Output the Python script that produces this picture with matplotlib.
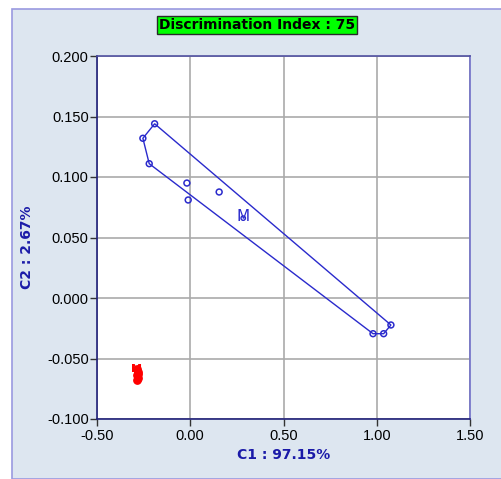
#PCA scatter plot with hull
import matplotlib.pyplot as plt
import numpy as np
from matplotlib.patches import Rectangle, Polygon

# group 1 (blue) scores
c1_blue = [-0.191, -0.254, -0.220, -0.018, -0.011, 0.155, 0.980, 1.037, 1.076]
c2_blue = [0.144, 0.132, 0.111, 0.095, 0.081, 0.0876, -0.0295, -0.0295, -0.0223]
# hull order (indices into blue points)
hull_idx = [0, 1, 2, 6, 7, 8]
blue_mean = (0.284, 0.066)

# group 2 (red) scores
c1_red = [-0.288, -0.282, -0.285, -0.279, -0.283, -0.280]
c2_red = [-0.059, -0.061, -0.064, -0.066, -0.068, -0.063]
red_mean = (-0.288, -0.059)

xticks = [-0.5, 0.0, 0.5, 1.0, 1.5]
yticks = [-0.1, -0.05, 0.0, 0.05, 0.1, 0.15, 0.2]

panel = '#dde6f0'
blue = '#2a2acc'
navy = '#20207a'

fig = plt.figure(figsize=(5.01, 4.79), dpi=100)
fig.patch.set_facecolor('white')
# panel background with border
fig.patches.append(Rectangle((12/501, 0.5/479), 1.0, 470/479, transform=fig.transFigure,
                             facecolor=panel, edgecolor='#9a9ae0', lw=1.2, zorder=-10))

ax = fig.add_axes([97/501, 60/479, 373/501, 363/479])
ax.set_zorder(5)
ax.set_facecolor('white')
ax.set_xlim(-0.5, 1.5)
ax.set_ylim(-0.1, 0.2)
ax.set_xticks(xticks)
ax.set_yticks(yticks)
ax.set_xticklabels(['%.2f' % t for t in xticks], fontsize=10.5, family='Liberation Sans')
ax.set_yticklabels(['%.3f' % t for t in yticks], fontsize=10.5, family='Liberation Sans')
ax.tick_params(axis='y', direction='out', length=5, width=1, color='#333333', pad=1)
ax.tick_params(axis='x', direction='out', length=5, width=1, color='#333333', pad=2)
ax.grid(True, color='#aaaaaa', lw=1.2)
ax.set_axisbelow(True)
for s in ax.spines.values():
    s.set_color(navy)
    s.set_linewidth(1.2)
ax.spines['right'].set_color('#7070c8')
ax.spines['top'].set_color('#5050a0')

# hull
hx = [c1_blue[i] for i in hull_idx]
hy = [c2_blue[i] for i in hull_idx]
ax.add_patch(Polygon(np.column_stack([hx, hy]), closed=True, fill=False,
                     edgecolor=blue, lw=1.0, zorder=3))
ax.scatter(c1_blue, c2_blue, s=18, facecolors='none', edgecolors=blue, lw=1.1, zorder=4)
ax.scatter([blue_mean[0]], [blue_mean[1]], s=10, facecolors='none', edgecolors=blue, lw=1, zorder=4)
ax.text(blue_mean[0], blue_mean[1] + 0.001, 'M', color=blue, fontsize=11, ha='center', va='center', zorder=5)

ax.scatter(c1_red, c2_red, s=28, color='red', zorder=4)
ax.text(red_mean[0], red_mean[1], 'M', color='red', fontsize=8, fontweight='bold', ha='center', va='center', zorder=5)

ax.set_xlabel('C1 : 97.15%', color='#1a1aa8', fontsize=10, fontweight='bold', labelpad=4)
ax.set_ylabel('C2 : 2.67%', color='#1a1aa8', fontsize=10, fontweight='bold')
ax.yaxis.set_label_coords(-0.17, 0.474)

fig.text(257/501, 1 - 25/479, 'Discrimination Index : 75', ha='center', va='center',
         fontsize=10, fontweight='bold', color='black',
         bbox=dict(boxstyle='square,pad=0.15', facecolor='#00ff00', edgecolor='#2a2a2a', lw=1))

fig.savefig('out.png', dpi=100, facecolor=fig.get_facecolor())
